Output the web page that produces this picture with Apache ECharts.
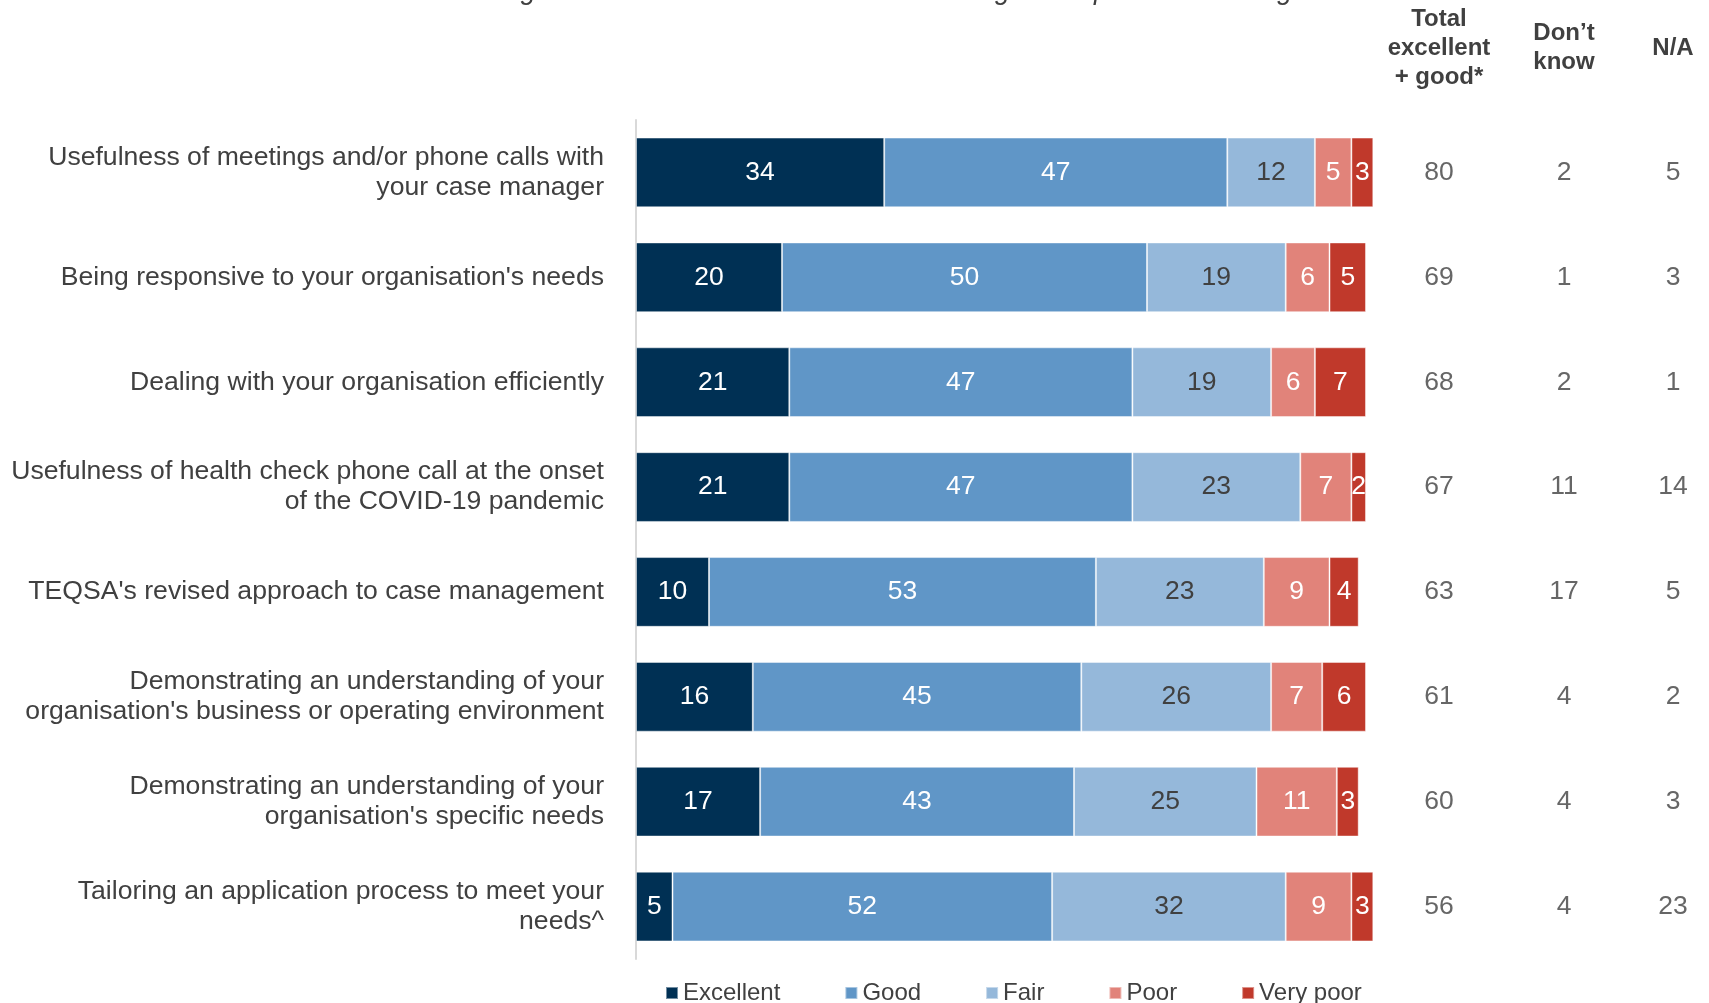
<!DOCTYPE html>
<html>
<head>
<meta charset="utf-8">
<title>Case management ratings</title>
<script src="https://cdn.jsdelivr.net/npm/echarts@6/dist/echarts.min.js"></script>
<style>
  html, body { margin: 0; padding: 0; background: #ffffff; }
  #chart { width: 1709px; height: 1003px; }
</style>
</head>
<body>
<div id="chart"></div>
<script>
// Rows, top to bottom
const categories = [
  "Usefulness of meetings and/or phone calls with\nyour case manager",
  "Being responsive to your organisation's needs",
  "Dealing with your organisation efficiently",
  "Usefulness of health check phone call at the onset\nof the COVID-19 pandemic",
  "TEQSA's revised approach to case management",
  "Demonstrating an understanding of your\norganisation's business or operating environment",
  "Demonstrating an understanding of your\norganisation's specific needs",
  "Tailoring an application process to meet your\nneeds^"
];

// Rating shares (%)
const excellent = [34, 20, 21, 21, 10, 16, 17, 5];
const good      = [47, 50, 47, 47, 53, 45, 43, 52];
const fair      = [12, 19, 19, 23, 23, 26, 25, 32];
const poor      = [5, 6, 6, 7, 9, 7, 11, 9];
const veryPoor  = [3, 5, 7, 2, 4, 6, 3, 3];

// Summary columns (%)
const totalExcellentGood = [80, 69, 68, 67, 63, 61, 60, 56];
const dontKnow           = [2, 1, 2, 11, 17, 4, 4, 4];
const notApplicable      = [5, 3, 1, 14, 5, 2, 3, 23];

const ratingNames = ['Excellent', 'Good', 'Fair', 'Poor', 'Very poor'];
const columnHeaders = ['Total\nexcellent\n+ good*', 'Don\u2019t\nknow', 'N/A'];
const titleText = 'Rating these interactions with the case manager and phone call rating';

const FONT = "'Liberation Sans', Arial, Helvetica, sans-serif";
const TEXT = '#404040';
const colors = ['#003054', '#6096c7', '#95b8da', '#e1837a', '#c0392b'];
const labelColors = ['#ffffff', '#ffffff', TEXT, '#ffffff', '#ffffff'];
const ratingSeries = [excellent, good, fair, poor, veryPoor];

const chart = echarts.init(document.getElementById('chart'), null, { renderer: 'canvas' });

// Main stacked-bar grid plus one narrow grid per summary column
const GRID_TOP = 120, GRID_BOTTOM = 44;
const columnCenters = [1439, 1564, 1687];
const COL_W = 100;

const grids = [{ left: 636, right: 343, top: GRID_TOP, bottom: GRID_BOTTOM }];
columnCenters.forEach(c => grids.push({ left: c - COL_W / 2, width: COL_W, top: GRID_TOP, bottom: GRID_BOTTOM }));

const xAxes = [{
  type: 'value', gridIndex: 0, min: 0, max: 100,
  show: false
}];
const yAxes = [{
  type: 'category', gridIndex: 0, data: categories, inverse: true,
  axisLine: { show: true, lineStyle: { color: '#d9d9d9', width: 2 } },
  axisTick: { show: false },
  splitLine: { show: false },
  axisLabel: {
    color: TEXT, fontFamily: FONT, fontSize: 26.6, lineHeight: 30,
    margin: 32, align: 'right'
  }
}];

columnHeaders.forEach((h, k) => {
  xAxes.push({
    type: 'category', gridIndex: k + 1, data: [h], position: 'top',
    axisLine: { show: false }, axisTick: { show: false }, splitLine: { show: false },
    axisLabel: {
      color: TEXT, fontFamily: FONT, fontSize: 24, fontWeight: 'bold',
      lineHeight: 29, margin: 72, verticalAlign: 'middle', align: 'center'
    }
  });
  yAxes.push({
    type: 'category', gridIndex: k + 1, data: categories, inverse: true, show: false
  });
});

const series = ratingSeries.map((vals, s) => ({
  name: ratingNames[s],
  type: 'bar',
  stack: 'rating',
  xAxisIndex: 0, yAxisIndex: 0,
  barWidth: '66.5%',
  clip: false,
  data: vals,
  itemStyle: { color: colors[s], borderColor: 'rgba(255,255,255,0.45)', borderWidth: 1 },
  label: {
    show: true, position: 'inside',
    color: labelColors[s], fontFamily: FONT, fontSize: 26.5,
    formatter: p => String(vals[p.dataIndex])
  },
  emphasis: { disabled: true }
}));

[totalExcellentGood, dontKnow, notApplicable].forEach((vals, k) => {
  series.push({
    type: 'scatter',
    xAxisIndex: k + 1, yAxisIndex: k + 1,
    symbolSize: 0,
    data: vals.map((v, i) => [0, i]),
    label: {
      show: true, position: 'inside',
      color: TEXT, fontFamily: FONT, fontSize: 26.5,
      formatter: p => String(vals[p.dataIndex])
    },
    emphasis: { disabled: true },
    silent: true
  });
});

chart.setOption({
  animation: false,
  backgroundColor: '#ffffff',
  textStyle: { fontFamily: FONT },
  grid: grids,
  xAxis: xAxes,
  yAxis: yAxes,
  legend: {
    data: ratingNames,
    left: 660, top: 976,
    icon: 'rect', itemWidth: 12, itemHeight: 12, itemGap: 64,
    selectedMode: false,
    textStyle: { color: TEXT, fontFamily: FONT, fontSize: 24, padding: [0, 0, 0, 0] }
  },
  graphic: [{
    type: 'text',
    x: 875, y: -22,
    style: {
      text: titleText,
      fill: TEXT,
      font: 'italic 27px ' + FONT,
      textAlign: 'center',
      textVerticalAlign: 'top'
    },
    silent: true
  }],
  series: series
});
</script>
</body>
</html>
